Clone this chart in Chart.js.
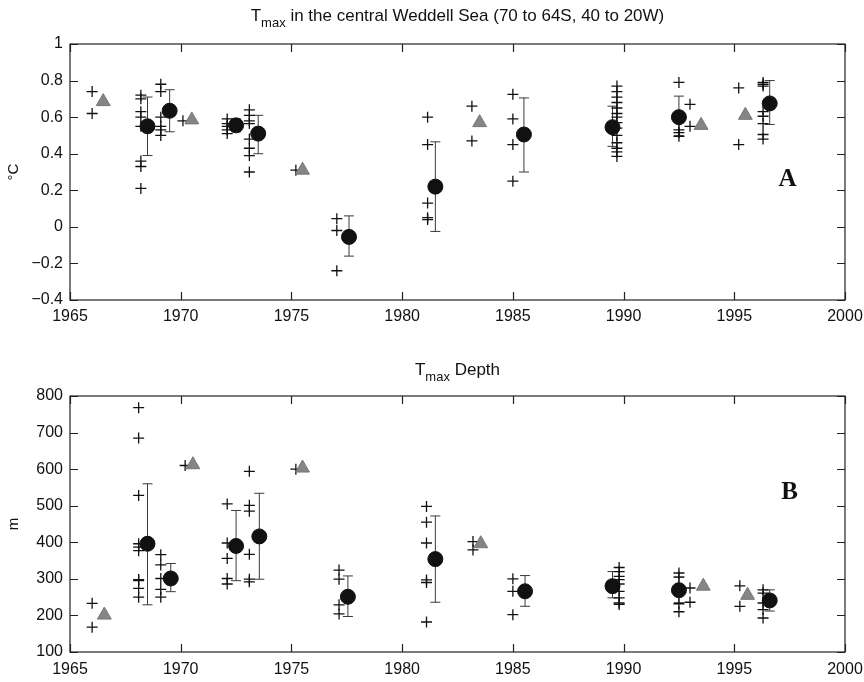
<!DOCTYPE html>
<html>
<head>
<meta charset="utf-8">
<script src="https://cdn.jsdelivr.net/npm/chart.js@4.4.0/dist/chart.umd.min.js"></script>
<style>
  html, body { margin: 0; padding: 0; background: #fff; }
  #wrap { position: relative; width: 864px; height: 682px; }
  canvas { position: absolute; left: 0; }
  #chartTemp { top: 0; }
  #chartDepth { top: 341px; }
</style>
</head>
<body>
<div id="wrap">
  <canvas id="chartTemp" width="864" height="341"></canvas>
  <canvas id="chartDepth" width="864" height="341"></canvas>
</div>
<script>
// === DATOS: Tmax (panel A) ===
const tPlusYears = [
  1966.0, 1966.0,
  1968.2, 1968.2, 1968.2, 1968.2, 1968.2, 1968.2, 1968.2, 1968.2,
  1969.1, 1969.1, 1969.1, 1969.1, 1969.1, 1969.1,
  1970.1,
  1972.1, 1972.1, 1972.1, 1972.1, 1972.1,
  1973.1, 1973.1, 1973.1, 1973.1, 1973.1, 1973.1, 1973.1, 1973.1,
  1975.2,
  1977.05, 1977.05, 1977.05,
  1981.15, 1981.15, 1981.15, 1981.15, 1981.15,
  1983.15, 1983.15,
  1985.0, 1985.0, 1985.0, 1985.0,
  1989.7, 1989.7, 1989.7, 1989.7, 1989.7, 1989.7, 1989.7, 1989.7, 1989.7, 1989.7, 1989.7, 1989.7, 1989.7, 1989.7,
  1992.5, 1992.5, 1992.5, 1992.5,
  1993.0, 1993.0,
  1995.2, 1995.2,
  1996.3, 1996.3, 1996.3, 1996.3, 1996.3, 1996.3, 1996.3, 1996.3
];
const tPlusVals = [
  0.74, 0.62,
  0.72, 0.70, 0.63, 0.60, 0.55, 0.36, 0.33, 0.21,
  0.78, 0.74, 0.60, 0.55, 0.53, 0.50,
  0.58,
  0.59, 0.565, 0.55, 0.53, 0.51,
  0.64, 0.61, 0.58, 0.565, 0.48, 0.43, 0.39, 0.30,
  0.31,
  0.045, -0.02, -0.24,
  0.60, 0.45, 0.13, 0.05, 0.04,
  0.66, 0.47,
  0.725, 0.59, 0.45, 0.25,
  0.77, 0.74, 0.71, 0.68, 0.65, 0.62, 0.60, 0.57, 0.54, 0.50, 0.46, 0.43, 0.41, 0.385,
  0.79, 0.53, 0.515, 0.495,
  0.67, 0.55,
  0.76, 0.45,
  0.79, 0.78, 0.77, 0.63, 0.605, 0.565, 0.505, 0.48
];
const tMeanYears = [1968.5, 1969.5, 1972.5, 1973.5, 1977.6, 1981.5, 1985.5, 1989.5, 1992.5, 1996.6];
const tMeanVals  = [0.55, 0.635, 0.555, 0.51, -0.055, 0.22, 0.505, 0.545, 0.60, 0.675];
const tErrHi     = [0.71, 0.75, 0.59, 0.61, 0.06, 0.465, 0.705, 0.66, 0.715, 0.80];
const tErrLo     = [0.39, 0.52, 0.52, 0.40, -0.16, -0.025, 0.30, 0.44, 0.50, 0.56];
const tTriYears  = [1966.5, 1970.5, 1975.5, 1983.5, 1993.5, 1995.5];
const tTriVals   = [0.685, 0.585, 0.31, 0.57, 0.555, 0.61];
const tTicks     = [-0.4, -0.2, 0, 0.2, 0.4, 0.6, 0.8, 1];

// === DATOS: profundidad de Tmax (panel B) ===
const dPlusYears = [
  1966.0, 1966.0,
  1968.1, 1968.1, 1968.1, 1968.1, 1968.1, 1968.1, 1968.1, 1968.1, 1968.1, 1968.1,
  1969.1, 1969.1, 1969.1, 1969.1, 1969.1,
  1970.2,
  1972.1, 1972.1, 1972.1, 1972.1, 1972.1,
  1973.1, 1973.1, 1973.1, 1973.1, 1973.1, 1973.1,
  1975.2,
  1977.15, 1977.15, 1977.15, 1977.15,
  1981.1, 1981.1, 1981.1, 1981.1, 1981.1, 1981.1,
  1983.2, 1983.2,
  1985.0, 1985.0, 1985.0,
  1989.8, 1989.8, 1989.8, 1989.8, 1989.8, 1989.8, 1989.8, 1989.8, 1989.8,
  1992.5, 1992.5, 1992.5, 1992.5,
  1993.0, 1993.0,
  1995.25, 1995.25,
  1996.3, 1996.3, 1996.3, 1996.3, 1996.3
];
const dPlusVals = [
  233, 168,
  768, 685, 528, 396, 387, 377, 298, 295, 274, 250,
  366, 338, 301, 271, 250,
  610,
  505, 398, 356, 301, 286,
  594, 501, 485, 367, 299, 292,
  600,
  324, 299, 229, 204,
  498, 455, 398, 297, 290, 182,
  402, 379,
  300, 266, 202,
  331, 320, 307, 298, 286, 266, 248, 234, 230,
  316, 305, 232, 210,
  275, 236,
  281, 225,
  270, 261, 234, 216, 193
];
const dMeanYears = [1968.5, 1969.55, 1972.5, 1973.55, 1977.55, 1981.5, 1985.55, 1989.5, 1992.5, 1996.6];
const dMeanVals  = [396, 301, 390, 416, 251, 354, 266, 280, 269, 241];
const dErrHi     = [560, 342, 487, 534, 308, 472, 309, 320, 305, 270];
const dErrLo     = [229, 265, 295, 299, 197, 236, 225, 248, 235, 212];
const dTriYears  = [1966.55, 1970.55, 1975.5, 1983.55, 1993.6, 1995.6];
const dTriVals   = [201, 612, 603, 396, 280, 255];
const dTicks     = [100, 200, 300, 400, 500, 600, 700, 800];

const yearTicks = [1965, 1970, 1975, 1980, 1985, 1990, 1995, 2000];

const FONT = "'Liberation Sans', Arial, Helvetica, sans-serif";
const zip = (xs, ys) => xs.map((x, i) => ({ x: x, y: ys[i] }));

// Marco estilo Matlab: caja, ticks hacia dentro, titulo con subindice y letra del panel
const matlabFrame = {
  id: 'matlabFrame',
  beforeDatasetsDraw(chart, args, opts) {
    const { ctx, scales } = chart;
    ctx.save();
    // barras de error
    ctx.strokeStyle = '#3a3a3a';
    ctx.lineWidth = 1;
    opts.errX.forEach((yr, i) => {
      const x = scales.x.getPixelForValue(yr);
      const yHi = scales.y.getPixelForValue(opts.errHi[i]);
      const yLo = scales.y.getPixelForValue(opts.errLo[i]);
      ctx.beginPath();
      ctx.moveTo(x, yHi); ctx.lineTo(x, yLo);
      ctx.moveTo(x - 5, yHi); ctx.lineTo(x + 5, yHi);
      ctx.moveTo(x - 5, yLo); ctx.lineTo(x + 5, yLo);
      ctx.stroke();
    });
    ctx.restore();
  },
  afterDraw(chart, args, opts) {
    const { ctx, chartArea: a, scales } = chart;
    ctx.save();
    ctx.strokeStyle = '#222';
    ctx.lineWidth = 1.2;
    ctx.strokeRect(a.left, a.top, a.right - a.left, a.bottom - a.top);
    ctx.beginPath();
    yearTicks.forEach(v => {
      const x = Math.round(scales.x.getPixelForValue(v)) + 0.5;
      ctx.moveTo(x, a.bottom); ctx.lineTo(x, a.bottom - 8);
      ctx.moveTo(x, a.top); ctx.lineTo(x, a.top + 8);
    });
    opts.yTicks.forEach(v => {
      const y = Math.round(scales.y.getPixelForValue(v)) + 0.5;
      ctx.moveTo(a.left, y); ctx.lineTo(a.left + 8, y);
      ctx.moveTo(a.right, y); ctx.lineTo(a.right - 8, y);
    });
    ctx.stroke();

    // titulo con T_max
    ctx.fillStyle = '#111';
    ctx.textBaseline = 'alphabetic';
    ctx.textAlign = 'left';
    const big = '17px ' + FONT, small = '13px ' + FONT;
    ctx.font = big;
    const wT = ctx.measureText('T').width;
    const wRest = ctx.measureText(opts.titleRest).width;
    ctx.font = small;
    const wSub = ctx.measureText('max').width;
    const total = wT + wSub + wRest;
    const x0 = (a.left + a.right) / 2 - total / 2;
    ctx.font = big;
    ctx.fillText('T', x0, opts.titleY);
    ctx.font = small;
    ctx.fillText('max', x0 + wT, opts.titleY + 6);
    ctx.font = big;
    ctx.fillText(opts.titleRest, x0 + wT + wSub, opts.titleY);

    // letra del panel
    ctx.font = "bold 25px 'Liberation Serif', 'Times New Roman', serif";
    ctx.textAlign = 'center';
    ctx.textBaseline = 'middle';
    ctx.fillText(opts.letter, scales.x.getPixelForValue(opts.letterAt[0]), scales.y.getPixelForValue(opts.letterAt[1]));
    ctx.restore();
  }
};

function buildChart(canvasId, cfg) {
  return new Chart(document.getElementById(canvasId), {
    type: 'scatter',
    data: {
      datasets: [
        {
          label: 'triangles',
          data: zip(cfg.triYears, cfg.triVals),
          pointStyle: 'triangle',
          pointRadius: 8,
          backgroundColor: '#858585',
          borderColor: '#777',
          borderWidth: 1
        },
        {
          label: 'means',
          data: zip(cfg.meanYears, cfg.meanVals),
          pointStyle: 'circle',
          pointRadius: 7.5,
          backgroundColor: '#111',
          borderColor: '#111',
          borderWidth: 1
        },
        {
          label: 'stations',
          data: zip(cfg.plusYears, cfg.plusVals),
          pointStyle: 'cross',
          pointRadius: 5.5,
          borderColor: '#111',
          borderWidth: 1.3,
          backgroundColor: '#111'
        }
      ]
    },
    options: {
      responsive: false,
      animation: false,
      events: [],
      layout: { padding: { left: 0, right: 19, top: cfg.padTop, bottom: 0 } },
      scales: {
        x: {
          type: 'linear',
          min: 1965, max: 2000,
          afterBuildTicks: s => { s.ticks = yearTicks.map(v => ({ value: v })); },
          afterFit: s => { s.height = cfg.xHeight; s.paddingLeft = 0; s.paddingRight = 0; },
          grid: { display: false, drawTicks: false },
          border: { display: false },
          ticks: { padding: cfg.xPad, color: '#111', font: { family: FONT, size: 16 }, maxRotation: 0, callback: v => String(v) }
        },
        y: {
          type: 'linear',
          min: cfg.yTicks[0], max: cfg.yTicks[cfg.yTicks.length - 1],
          afterBuildTicks: s => { s.ticks = cfg.yTicks.map(v => ({ value: v })); },
          afterFit: s => { s.width = 70; s.paddingTop = 0; s.paddingBottom = 0; },
          grid: { display: false, drawTicks: false },
          border: { display: false },
          ticks: { padding: 7, color: '#111', font: { family: FONT, size: 16 }, callback: cfg.yFmt },
          title: { display: true, text: cfg.yTitle, color: '#111', font: { family: FONT, size: 15 }, padding: { top: 5, bottom: 0 } }
        }
      },
      plugins: {
        legend: { display: false },
        tooltip: { enabled: false },
        matlabFrame: {
          errX: cfg.meanYears, errHi: cfg.errHi, errLo: cfg.errLo,
          yTicks: cfg.yTicks,
          titleRest: cfg.titleRest, titleY: cfg.titleY,
          letter: cfg.letter, letterAt: cfg.letterAt
        }
      }
    },
    plugins: [matlabFrame]
  });
}

buildChart('chartTemp', {
  plusYears: tPlusYears, plusVals: tPlusVals,
  meanYears: tMeanYears, meanVals: tMeanVals, errHi: tErrHi, errLo: tErrLo,
  triYears: tTriYears, triVals: tTriVals,
  yTicks: tTicks,
  yFmt: v => String(Math.round(v * 10) / 10).replace('-', '\u2212'),
  yTitle: '\u00B0C',
  titleRest: ' in the central Weddell Sea (70 to 64S, 40 to 20W)',
  titleY: 21,
  letter: 'A', letterAt: [1997.4, 0.26],
  padTop: 44, xHeight: 41, xPad: 7
});

buildChart('chartDepth', {
  plusYears: dPlusYears, plusVals: dPlusVals,
  meanYears: dMeanYears, meanVals: dMeanVals, errHi: dErrHi, errLo: dErrLo,
  triYears: dTriYears, triVals: dTriVals,
  yTicks: dTicks,
  yFmt: v => String(v),
  yTitle: 'm',
  titleRest: ' Depth',
  titleY: 34,
  letter: 'B', letterAt: [1997.5, 537],
  padTop: 55, xHeight: 30, xPad: 8
});
</script>
</body>
</html>
